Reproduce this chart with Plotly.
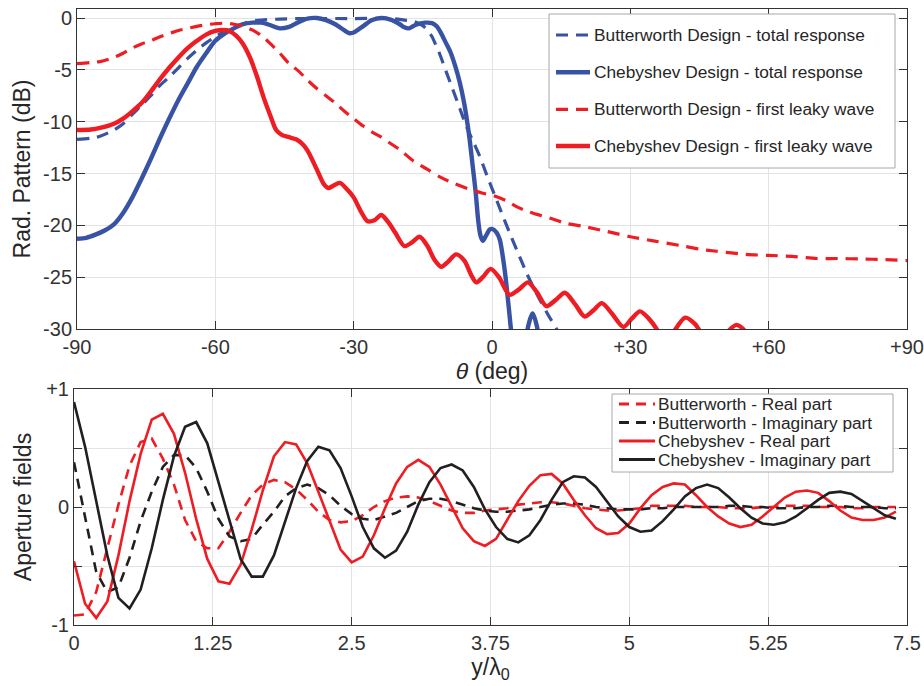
import numpy as np
import plotly.graph_objects as go

# ---------------- Top panel data (theta in deg, pattern in dB) ----------------
bw_total_theta = [-90, -87, -85, -82, -80, -78, -76, -74, -72, -70, -68, -66, -64, -62, -60, -58, -56, -54,
                  -52, -50, -46, -40, -30, -22, -19, -17.2, -15.5, -14.3, -13, -12, -11.4, -10, -8.5, -7,
                  -5.6, -4, -2.7, -1, 0.5, 2, 3.8, 5.5, 7.5, 9, 10.4, 12, 14, 16, 18]
bw_total_db = [-11.7, -11.6, -11.4, -10.8, -10.2, -9.3, -8.4, -7.5, -6.5, -5.7, -4.8, -3.9, -3.1, -2.4, -1.8,
               -1.3, -0.9, -0.55, -0.3, -0.2, -0.1, -0.05, -0.05, -0.05, -0.2, -0.3, -0.6, -1.0, -1.8, -2.8,
               -3.4, -5.1, -6.9, -8.7, -10.4, -12.0, -13.3, -15.3, -17.0, -18.7, -20.7, -22.5, -24.6, -26.0,
               -27.2, -28.5, -30.0, -31.5, -33.0]

ch_total_theta = [-90, -88, -86, -84, -82, -80, -78, -76, -74, -72, -70, -68, -66, -64, -62, -60, -58, -56,
                  -54, -52, -50, -48, -46, -44, -42, -40, -38, -36, -34, -32, -31, -30, -28, -26, -24, -22,
                  -20, -19, -18, -16.5, -14.5, -13, -12, -11, -10, -9, -8, -7, -6, -5, -4, -3.5, -3, -2.5,
                  -2, -1.3, -0.5, 0, 1, 1.7, 2.5, 3.1, 4.1, 5, 6.5, 7.5, 8.8, 10, 11, 12]
ch_total_db = [-21.3, -21.2, -20.9, -20.5, -19.9, -18.8, -17.3, -15.5, -13.6, -11.6, -9.7, -7.9, -6.3, -4.7,
               -3.4, -2.2, -1.5, -1.0, -0.6, -0.45, -0.45, -0.7, -1.0, -0.85, -0.4, -0.05, 0.0, -0.2, -0.6,
               -1.2, -1.45, -1.4, -0.8, -0.2, 0.0, -0.15, -0.6, -0.9, -1.0, -0.65, -0.45, -0.5, -0.8, -1.5,
               -2.4, -3.3, -4.6, -6.2, -8.3, -11.2, -15.0, -17.0, -19.5, -21.0, -21.5, -21.0, -20.4, -20.35,
               -20.7, -21.4, -23.5, -25.6, -30.0, -34.0, -36.0, -30.5, -28.5, -30.3, -35.0, -42.0]

bw_leaky_theta = [-90, -87, -85, -82, -80, -78, -76, -74, -72, -70, -68, -66, -64, -62, -60, -58, -56, -54,
                  -52, -50, -48, -46, -44, -42, -40, -38, -36, -34, -32, -30, -28, -26, -24, -22, -20, -17,
                  -14, -11, -8, -5, -2, 0, 3, 5.3, 8, 12.5, 16, 19.8, 25, 30, 35, 41.5, 45, 48.7, 55, 60, 65,
                  70.5, 75, 80, 85, 90]
bw_leaky_db = [-4.4, -4.3, -4.2, -3.8, -3.4, -2.9, -2.5, -2.2, -1.8, -1.5, -1.2, -1.0, -0.8, -0.65, -0.55,
               -0.5, -0.6, -0.8, -1.15, -1.7, -2.5, -3.4, -4.4, -5.1, -6.0, -6.8, -7.5, -8.2, -9.0, -9.7,
               -10.4, -11.0, -11.5, -12.1, -12.7, -13.8, -14.6, -15.4, -16.0, -16.5, -16.9, -17.1, -17.6,
               -18.2, -18.7, -19.3, -19.8, -20.1, -20.6, -21.1, -21.5, -22.0, -22.3, -22.5, -22.8, -22.9,
               -23.0, -23.2, -23.2, -23.25, -23.3, -23.4]

ch_leaky_theta = [-90, -87, -85, -82, -80, -78, -76, -74, -72, -70, -68, -66, -64, -62, -60, -58.5, -57,
                  -55.5, -54, -52.5, -51, -49.5, -48, -46.8, -45.5, -44, -42.5, -41, -40, -38, -36.5, -35.5,
                  -34.5, -33, -31.5, -30, -28.5, -27, -25.5, -24, -22.5, -21, -19, -17.5, -15.7, -14, -12.5,
                  -11, -9.5, -7.8, -6, -4.5, -3.4, -2, -0.3, 1.5, 3.8, 5.8, 7.8, 9.8, 11.8, 13.8, 15.8, 18,
                  20.1, 22, 23.8, 26, 28.5, 30.3, 32.1, 34, 35.7, 37.5, 39.5, 41.9, 44, 45.5, 47.5, 50, 53,
                  55.5, 58, 62]
ch_leaky_db = [-10.8, -10.75, -10.6, -10.2, -9.7, -9.0, -8.2, -7.1, -5.9, -4.8, -3.8, -2.9, -2.2, -1.6,
               -1.25, -1.15, -1.25, -1.7, -2.5, -3.8, -5.6, -7.7, -9.5, -10.8, -11.3, -11.5, -11.7, -12.2,
               -12.8, -14.6, -16.0, -16.4, -16.2, -15.9, -16.5, -17.3, -18.6, -19.6, -19.5, -19.0, -19.7,
               -20.7, -22.0, -21.7, -21.1, -22.0, -23.3, -24.0, -23.5, -22.8, -23.4, -24.8, -25.5, -25.0,
               -24.2, -25.0, -26.7, -26.2, -25.5, -26.5, -27.8, -27.2, -26.5, -27.6, -28.8, -28.2, -27.5,
               -28.5, -29.8, -29.0, -28.3, -29.0, -30.0, -31.5, -30.2, -28.9, -29.5, -30.5, -31.8, -30.8,
               -29.6, -30.5, -32.5, -35.0]

top_xticks = [-90, -60, -30, 0, 30, 60, 90]
top_xticktext = ["-90", "-60", "-30", "0", "+30", "+60", "+90"]
top_yticks = [-30, -25, -20, -15, -10, -5, 0]
top_yticktext = ["-30", "-25", "-20", "-15", "-10", "-5", "0"]
top_legend_labels = ["Butterworth Design - total response", "Chebyshev Design - total response",
                     "Butterworth Design - first leaky wave", "Chebyshev Design - first leaky wave"]

# ---------------- Bottom panel data (aperture fields vs y/lambda0) ----------------
y_lambda = np.round(np.arange(0, 75) * 0.1, 1)

bw_real = [-0.92, -0.91, -0.72, -0.36, 0.02, 0.35, 0.55, 0.58, 0.41, 0.19, -0.11, -0.29, -0.35, -0.35,
           -0.21, -0.05, 0.10, 0.19, 0.23, 0.21, 0.15, 0.06, -0.04, -0.11, -0.13, -0.12, -0.07, 0.00, 0.05,
           0.08, 0.09, 0.08, 0.05, 0.01, -0.03, -0.05, -0.05, -0.03, -0.02, -0.01, 0.02, 0.03, 0.04, 0.04,
           0.03, 0.01, -0.01, -0.02, -0.03, -0.03, -0.02, -0.01, 0.01, 0.01, 0.01, 0.01, 0.00, 0.00, 0.00,
           -0.01, -0.01, -0.01, 0.00, 0.00, 0.01, 0.01, 0.01, 0.00, 0.00, 0.00, -0.01, -0.01, 0.00, 0.00,
           0.00]
bw_imag = [0.38, -0.08, -0.55, -0.72, -0.68, -0.43, -0.12, 0.13, 0.34, 0.44, 0.44, 0.33, 0.13, -0.10, -0.25,
           -0.29, -0.27, -0.15, -0.04, 0.09, 0.16, 0.19, 0.16, 0.10, 0.01, -0.06, -0.10, -0.11, -0.08, -0.05,
           0.00, 0.05, 0.07, 0.07, 0.05, 0.02, -0.01, -0.03, -0.04, -0.04, -0.03, -0.02, 0.00, 0.02, 0.03,
           0.03, 0.02, 0.00, -0.01, -0.02, -0.02, -0.02, -0.01, -0.01, 0.00, 0.00, 0.00, 0.00, 0.00, 0.01,
           0.01, 0.00, 0.00, -0.01, -0.01, -0.01, 0.00, 0.00, 0.01, 0.01, 0.00, 0.00, 0.00, -0.01, -0.01]
ch_real = [-0.46, -0.82, -0.94, -0.80, -0.41, 0.05, 0.45, 0.74, 0.79, 0.62, 0.29, -0.10, -0.44, -0.63, -0.65,
           -0.49, -0.19, 0.14, 0.43, 0.55, 0.53, 0.37, 0.13, -0.12, -0.36, -0.47, -0.42, -0.24, -0.01, 0.20,
           0.34, 0.40, 0.34, 0.19, 0.00, -0.18, -0.29, -0.33, -0.27, -0.11, 0.05, 0.18, 0.27, 0.28, 0.20,
           0.06, -0.07, -0.18, -0.23, -0.22, -0.14, -0.01, 0.10, 0.17, 0.20, 0.19, 0.10, 0.00, -0.08, -0.14,
           -0.17, -0.15, -0.08, 0.00, 0.08, 0.13, 0.14, 0.12, 0.05, -0.03, -0.09, -0.11, -0.11, -0.09, -0.04]
ch_imag = [0.89, 0.51, 0.05, -0.41, -0.77, -0.86, -0.70, -0.35, 0.06, 0.43, 0.68, 0.72, 0.54, 0.21, -0.12,
           -0.44, -0.59, -0.59, -0.41, -0.13, 0.16, 0.39, 0.51, 0.48, 0.33, 0.09, -0.17, -0.35, -0.43, -0.37,
           -0.21, 0.02, 0.21, 0.33, 0.36, 0.31, 0.17, -0.02, -0.17, -0.27, -0.30, -0.24, -0.11, 0.06, 0.21,
           0.26, 0.25, 0.17, 0.05, -0.08, -0.17, -0.21, -0.20, -0.12, -0.02, 0.09, 0.16, 0.19, 0.16, 0.08,
           -0.01, -0.09, -0.14, -0.15, -0.13, -0.08, -0.01, 0.06, 0.12, 0.13, 0.11, 0.05, -0.01, -0.07, -0.10]

bot_xticks = [0, 1.25, 2.5, 3.75, 5, 6.25, 7.5]
bot_xticktext = ["0", "1.25", "2.5", "3.75", "5", "5.25", "7.5"]
bot_yticks = [-1, 0, 1]
bot_yticktext = ["-1", "0", "+1"]
bot_yminor = [-0.5, 0.5]
bot_legend_labels = ["Butterworth - Real part", "Butterworth - Imaginary part",
                     "Chebyshev - Real part", "Chebyshev - Imaginary part"]

# ---------------- styling ----------------
W, H = 924, 686
BLUE = "#3953A4"
RED = "#EE1D24"
BLACK = "#231F20"
FONT = "Liberation Sans, Arial, Helvetica, sans-serif"
TXT = "#262626"
GRID = "#e3e3e3"
DASH_TOP = "12px,8px"
DASH_BOT = "10px,7px"


def px(x):
    return x / W


def py(y):
    return 1 - y / H


fig = go.Figure()

top_series = [
    (bw_total_theta, bw_total_db, BLUE, DASH_TOP, 3.2),
    (ch_total_theta, ch_total_db, BLUE, "solid", 4.4),
    (bw_leaky_theta, bw_leaky_db, RED, DASH_TOP, 3.2),
    (ch_leaky_theta, ch_leaky_db, RED, "solid", 4.4),
]
for (xs, ys, c, d, w), name in zip(top_series, top_legend_labels):
    fig.add_trace(go.Scatter(x=xs, y=ys, mode="lines", name=name,
                             line=dict(color=c, dash=d, width=w, shape="spline", smoothing=0.8),
                             xaxis="x", yaxis="y", showlegend=False))

bot_series = [
    (bw_real, RED, DASH_BOT),
    (bw_imag, BLACK, DASH_BOT),
    (ch_real, RED, "solid"),
    (ch_imag, BLACK, "solid"),
]
for (ys, c, d), name in zip(bot_series, bot_legend_labels):
    fig.add_trace(go.Scatter(x=y_lambda, y=ys, mode="lines", name=name,
                             line=dict(color=c, dash=d, width=2.6),
                             xaxis="x2", yaxis="y2", showlegend=False))

axis_common = dict(showgrid=True, gridcolor=GRID, gridwidth=1, showline=True, linecolor="#333333",
                   linewidth=1, mirror="ticks", ticks="inside", ticklen=8, tickcolor="#333333",
                   tickfont=dict(family=FONT, size=20, color="#333333"), zeroline=False,
                   automargin=False, tickmode="array")

fig.update_layout(
    width=W, height=H, margin=dict(l=0, r=0, t=0, b=0),
    paper_bgcolor="white", plot_bgcolor="white",
    font=dict(family=FONT, color=TXT),
    xaxis=dict(axis_common, domain=[px(77), px(907)], range=[-90, 90], anchor="y",
               tickvals=top_xticks, ticktext=top_xticktext,
               title=dict(text="<i>θ</i> (deg)", font=dict(family=FONT, size=23, color=TXT), standoff=0)),
    yaxis=dict(axis_common, domain=[py(329), py(9)], range=[-30, 0.87], anchor="x",
               tickvals=top_yticks, ticktext=top_yticktext,
               title=dict(text="Rad. Pattern (dB)", font=dict(family=FONT, size=23, color=TXT), standoff=6)),
    xaxis2=dict(axis_common, domain=[px(74), px(907)], range=[0, 7.5], anchor="y2",
                tickvals=bot_xticks, ticktext=bot_xticktext,
                title=dict(text="y/λ<sub>0</sub>", font=dict(family=FONT, size=23, color=TXT), standoff=0)),
    yaxis2=dict(axis_common, domain=[py(625), py(389)], range=[-1, 1], anchor="x2",
                tickvals=bot_yticks, ticktext=bot_yticktext,
                minor=dict(tickmode="array", tickvals=bot_yminor, ticks="inside", ticklen=8,
                           tickcolor="#333333", showgrid=True, gridcolor=GRID, gridwidth=1),
                title=dict(text="Aperture fields", font=dict(family=FONT, size=23, color=TXT), standoff=8)),
    showlegend=False,
)

shapes = []
annots = []


def add_legend(box, sample_x, text_x, rows, series, labels, widths):
    x0, x1, y0, y1 = box
    shapes.append(dict(type="rect", xref="paper", yref="paper", x0=px(x0), x1=px(x1), y0=py(y1), y1=py(y0),
                       line=dict(color="#a8a8a8", width=1), fillcolor="white", layer="above"))
    for s, label, yy, w in zip(series, labels, rows, widths):
        c, d = s
        shapes.append(dict(type="line", xref="paper", yref="paper", x0=px(sample_x[0]), x1=px(sample_x[1]),
                           y0=py(yy), y1=py(yy), line=dict(color=c, width=w, dash=d), layer="above"))
        annots.append(dict(text=label, xref="paper", yref="paper", x=px(text_x), y=py(yy), xanchor="left",
                           yanchor="middle", showarrow=False, borderpad=0,
                           font=dict(family=FONT, size=17.3, color=TXT)))


add_legend((549, 895, 14, 168), (556, 590), 593, [35, 72.3, 109.3, 146],
           [(s[2], s[3]) for s in top_series], top_legend_labels, [s[4] for s in top_series])
add_legend((612, 893, 394, 472), (619, 655), 657, [404, 422.5, 441, 459.5],
           [(s[1], s[2]) for s in bot_series], bot_legend_labels, [2.8] * 4)
fig.update_layout(shapes=shapes, annotations=annots)

fig.write_html("out.html", config={"displayModeBar": False},
               post_script="document.body.style.margin='0px';")
